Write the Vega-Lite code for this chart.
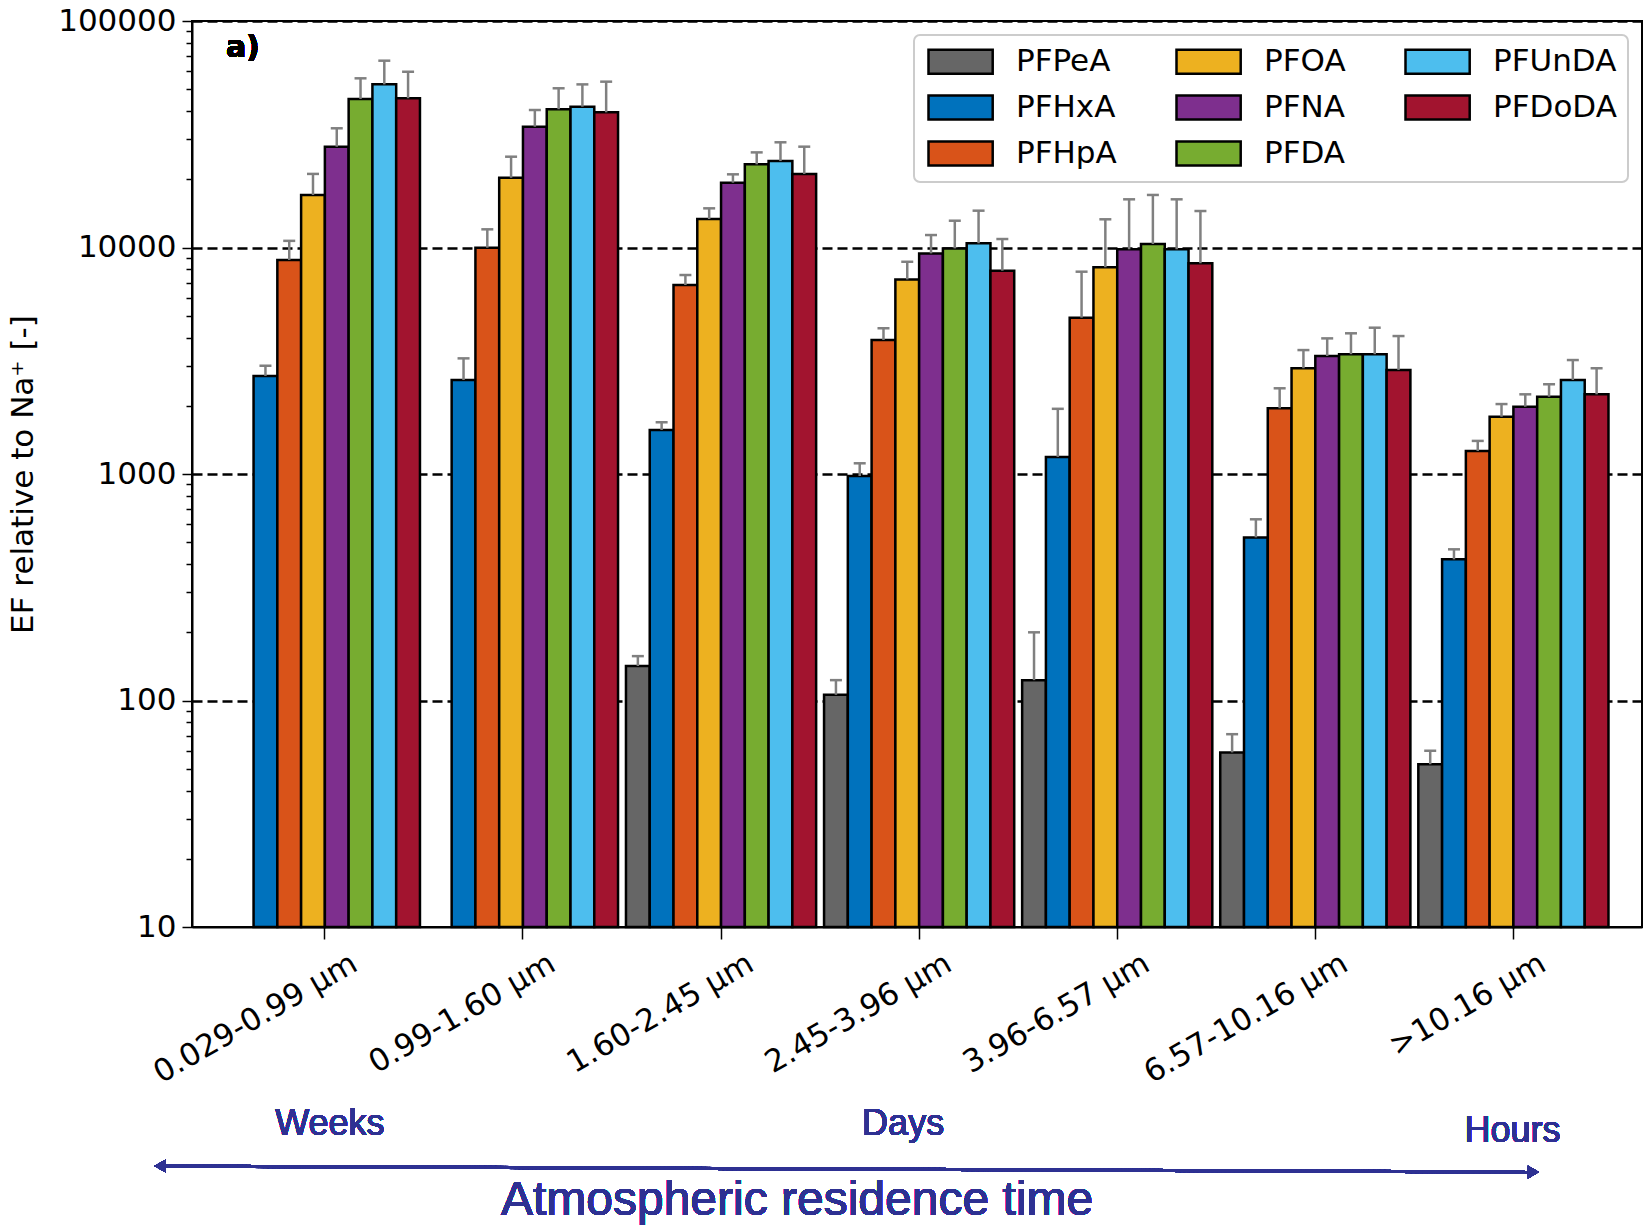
{
  "$schema": "https://vega.github.io/schema/vega-lite/v6.json",
  "autosize": {"type": "none"},
  "width": 1450,
  "height": 906,
  "padding": {"left": 192, "top": 21, "right": 2, "bottom": 300},
  "config": {
    "font": "DejaVu Sans",
    "view": {"stroke": "black", "strokeWidth": 2}
  },
  "data": {
    "values": [
      {"size": "0.029-0.99 µm", "species": "PFHxA", "value": 2710, "upper": 3006},
      {"size": "0.029-0.99 µm", "species": "PFHpA", "value": 8810, "upper": 10700},
      {"size": "0.029-0.99 µm", "species": "PFOA", "value": 17060, "upper": 21130},
      {"size": "0.029-0.99 µm", "species": "PFNA", "value": 27870, "upper": 33600},
      {"size": "0.029-0.99 µm", "species": "PFDA", "value": 45280, "upper": 55840},
      {"size": "0.029-0.99 µm", "species": "PFUnDA", "value": 52510, "upper": 66800},
      {"size": "0.029-0.99 µm", "species": "PFDoDA", "value": 45600, "upper": 59700},
      {"size": "0.99-1.60 µm", "species": "PFHxA", "value": 2600, "upper": 3240},
      {"size": "0.99-1.60 µm", "species": "PFHpA", "value": 9980, "upper": 12030},
      {"size": "0.99-1.60 µm", "species": "PFOA", "value": 20320, "upper": 25170},
      {"size": "0.99-1.60 µm", "species": "PFNA", "value": 34150, "upper": 40460},
      {"size": "0.99-1.60 µm", "species": "PFDA", "value": 40800, "upper": 50460},
      {"size": "0.99-1.60 µm", "species": "PFUnDA", "value": 41860, "upper": 52500},
      {"size": "0.99-1.60 µm", "species": "PFDoDA", "value": 39520, "upper": 53970},
      {"size": "1.60-2.45 µm", "species": "PFPeA", "value": 142, "upper": 157},
      {"size": "1.60-2.45 µm", "species": "PFHxA", "value": 1564, "upper": 1692},
      {"size": "1.60-2.45 µm", "species": "PFHpA", "value": 6830, "upper": 7560},
      {"size": "1.60-2.45 µm", "species": "PFOA", "value": 13360, "upper": 14890},
      {"size": "1.60-2.45 µm", "species": "PFNA", "value": 19330, "upper": 21040},
      {"size": "1.60-2.45 µm", "species": "PFDA", "value": 23290, "upper": 26300},
      {"size": "1.60-2.45 µm", "species": "PFUnDA", "value": 24080, "upper": 29140},
      {"size": "1.60-2.45 µm", "species": "PFDoDA", "value": 21130, "upper": 27870},
      {"size": "2.45-3.96 µm", "species": "PFPeA", "value": 106, "upper": 123},
      {"size": "2.45-3.96 µm", "species": "PFHxA", "value": 980, "upper": 1115},
      {"size": "2.45-3.96 µm", "species": "PFHpA", "value": 3905, "upper": 4400},
      {"size": "2.45-3.96 µm", "species": "PFOA", "value": 7230, "upper": 8650},
      {"size": "2.45-3.96 µm", "species": "PFNA", "value": 9420, "upper": 11350},
      {"size": "2.45-3.96 µm", "species": "PFDA", "value": 9910, "upper": 13130},
      {"size": "2.45-3.96 µm", "species": "PFUnDA", "value": 10440, "upper": 14540},
      {"size": "2.45-3.96 µm", "species": "PFDoDA", "value": 7900, "upper": 10900},
      {"size": "3.96-6.57 µm", "species": "PFPeA", "value": 123, "upper": 200},
      {"size": "3.96-6.57 µm", "species": "PFHxA", "value": 1190, "upper": 1940},
      {"size": "3.96-6.57 µm", "species": "PFHpA", "value": 4900, "upper": 7820},
      {"size": "3.96-6.57 µm", "species": "PFOA", "value": 8180, "upper": 13320},
      {"size": "3.96-6.57 µm", "species": "PFNA", "value": 9820, "upper": 16320},
      {"size": "3.96-6.57 µm", "species": "PFDA", "value": 10360, "upper": 17060},
      {"size": "3.96-6.57 µm", "species": "PFUnDA", "value": 9820, "upper": 16320},
      {"size": "3.96-6.57 µm", "species": "PFDoDA", "value": 8520, "upper": 14490},
      {"size": "6.57-10.16 µm", "species": "PFPeA", "value": 59, "upper": 71},
      {"size": "6.57-10.16 µm", "species": "PFHxA", "value": 525, "upper": 631},
      {"size": "6.57-10.16 µm", "species": "PFHpA", "value": 1950, "upper": 2390},
      {"size": "6.57-10.16 µm", "species": "PFOA", "value": 2930, "upper": 3525},
      {"size": "6.57-10.16 µm", "species": "PFNA", "value": 3320, "upper": 3970},
      {"size": "6.57-10.16 µm", "species": "PFDA", "value": 3380, "upper": 4180},
      {"size": "6.57-10.16 µm", "species": "PFUnDA", "value": 3380, "upper": 4425},
      {"size": "6.57-10.16 µm", "species": "PFDoDA", "value": 2880, "upper": 4065},
      {"size": ">10.16 µm", "species": "PFPeA", "value": 52.3, "upper": 60},
      {"size": ">10.16 µm", "species": "PFHxA", "value": 420, "upper": 465},
      {"size": ">10.16 µm", "species": "PFHpA", "value": 1264, "upper": 1400},
      {"size": ">10.16 µm", "species": "PFOA", "value": 1790, "upper": 2036},
      {"size": ">10.16 µm", "species": "PFNA", "value": 1983, "upper": 2248},
      {"size": ">10.16 µm", "species": "PFDA", "value": 2193, "upper": 2490},
      {"size": ">10.16 µm", "species": "PFUnDA", "value": 2600, "upper": 3185},
      {"size": ">10.16 µm", "species": "PFDoDA", "value": 2248, "upper": 2930}
    ]
  },
  "encoding": {
    "x": {
      "field": "size",
      "type": "nominal",
      "sort": null,
      "scale": {
        "domain": ["0.029-0.99 µm", "0.99-1.60 µm", "1.60-2.45 µm", "2.45-3.96 µm", "3.96-6.57 µm", "6.57-10.16 µm", ">10.16 µm"],
        "paddingInner": 0.04,
        "paddingOuter": 0.18,
        "align": 0.53
      },
      "axis": {
        "title": null,
        "labelAngle": -30,
        "labelAlign": "right",
        "labelBaseline": "middle",
        "labelOffset": 30,
        "labelPadding": 22,
        "labelFontSize": 31,
        "labelLimit": 0,
        "labelColor": "black",
        "labelFont": "DejaVu Sans",
        "tickSize": 12,
        "tickColor": "black",
        "tickWidth": 1.5,
        "domainColor": "black",
        "domainWidth": 2
      }
    },
    "y": {
      "type": "quantitative",
      "scale": {"type": "log", "domain": [10, 100000], "nice": false},
      "axis": {
        "title": "EF relative to Na⁺  [-]",
        "titleFontSize": 31,
        "titleFontWeight": "normal",
        "titleFont": "DejaVu Sans",
        "titleColor": "black",
        "titlePadding": 18,
        "values": [10, 20, 30, 40, 50, 60, 70, 80, 90, 100, 200, 300, 400, 500, 600, 700, 800, 900, 1000, 2000, 3000, 4000, 5000, 6000, 7000, 8000, 9000, 10000, 20000, 30000, 40000, 50000, 60000, 70000, 80000, 90000, 100000],
        "labelExpr": "indexof([10,100,1000,10000,100000], datum.value) >= 0 ? '' + datum.value : ''",
        "labelFontSize": 31,
        "labelColor": "black",
        "labelPadding": 6,
        "labelFont": "DejaVu Sans",
        "tickColor": "black",
        "tickWidth": 1.5,
        "tickSize": {"condition": {"test": "indexof([10,100,1000,10000,100000], datum.value) >= 0", "value": 10}, "value": 6},
        "domainColor": "black",
        "domainWidth": 2,
        "grid": true,
        "gridColor": "black",
        "gridWidth": 2.6,
        "gridDash": [10, 5],
        "gridOpacity": {"condition": {"test": "indexof([100,1000,10000,100000], datum.value) >= 0", "value": 1}, "value": 0}
      }
    }
  },
  "layer": [
    {
      "mark": {"type": "bar", "stroke": "black", "strokeWidth": 2.5},
      "encoding": {
        "y": {"field": "value", "type": "quantitative"},
        "y2": {"datum": 10},
        "xOffset": {
          "field": "species",
          "type": "nominal",
          "scale": {"domain": ["PFPeA", "PFHxA", "PFHpA", "PFOA", "PFNA", "PFDA", "PFUnDA", "PFDoDA"], "paddingInner": 0, "paddingOuter": 0}
        },
        "color": {
          "field": "species",
          "type": "nominal",
          "scale": {
            "domain": ["PFPeA", "PFHxA", "PFHpA", "PFOA", "PFNA", "PFDA", "PFUnDA", "PFDoDA"],
            "range": ["#666666", "#0072BD", "#D95319", "#EDB120", "#7E2F8E", "#77AC30", "#4DBEEE", "#A2142F"]
          },
          "legend": {
            "title": null,
            "orient": "top-right",
            "offset": 14,
            "columns": 3,
            "symbolType": "M-1,-1H4.35V1H-1Z",
            "symbolSize": 576,
            "symbolStrokeColor": "black",
            "symbolStrokeWidth": 2.5,
            "symbolOpacity": 1,
            "labelFontSize": 31,
            "labelFont": "DejaVu Sans",
            "labelColor": "black",
            "labelOffset": 60,
            "columnPadding": 54,
            "rowPadding": 11,
            "padding": 11,
            "fillColor": "white",
            "strokeColor": "#cccccc",
            "cornerRadius": 6,
            "encode": {"legend": {"update": {"strokeWidth": {"value": 2}}}}
          }
        }
      }
    },
    {
      "mark": {"type": "rule", "color": "#808080", "strokeWidth": 2.5},
      "encoding": {
        "y": {"field": "value", "type": "quantitative"},
        "y2": {"field": "upper"},
        "xOffset": {"field": "species", "type": "nominal"}
      }
    },
    {
      "mark": {"type": "point", "shape": "M-1,0H1", "filled": false, "color": "#808080", "strokeWidth": 2.5, "size": 144, "opacity": 1},
      "encoding": {
        "y": {"field": "upper", "type": "quantitative"},
        "xOffset": {"field": "species", "type": "nominal"}
      }
    },
    {
      "mark": {"type": "text", "text": "a)", "fontSize": 30, "fontWeight": "bold", "align": "left", "baseline": "middle", "dx": -99, "color": "black"},
      "encoding": {
        "x": {"datum": "0.029-0.99 µm", "type": "nominal"},
        "y": {"datum": 76000, "type": "quantitative"}
      }
    },
    {
      "mark": {"type": "text", "text": "Weeks", "font": "Liberation Sans", "fontSize": 36, "color": "#2e3192", "align": "center", "baseline": "middle", "dx": 5},
      "encoding": {
        "x": {"datum": "0.029-0.99 µm", "type": "nominal"},
        "y": {"datum": 1.35, "type": "quantitative"}
      }
    },
    {
      "mark": {"type": "text", "text": "Days", "font": "Liberation Sans", "fontSize": 36, "color": "#2e3192", "align": "center", "baseline": "middle", "dx": -16},
      "encoding": {
        "x": {"datum": "2.45-3.96 µm", "type": "nominal"},
        "y": {"datum": 1.35, "type": "quantitative"}
      }
    },
    {
      "mark": {"type": "text", "text": "Hours", "font": "Liberation Sans", "fontSize": 36, "color": "#2e3192", "align": "center", "baseline": "middle", "dx": -1},
      "encoding": {
        "x": {"datum": ">10.16 µm", "type": "nominal"},
        "y": {"datum": 1.26, "type": "quantitative"}
      }
    },
    {
      "mark": {"type": "text", "text": "Atmospheric residence time", "font": "Liberation Sans", "fontSize": 48, "color": "#2e3192", "align": "center", "baseline": "middle", "dx": 76},
      "encoding": {
        "x": {"datum": "1.60-2.45 µm", "type": "nominal"},
        "y": {"datum": 0.62, "type": "quantitative"}
      }
    },
    {
      "mark": {"type": "rule", "color": "#2e3192", "strokeWidth": 3, "xOffset": -165, "x2Offset": 20},
      "encoding": {
        "x": {"datum": "0.029-0.99 µm", "type": "nominal"},
        "x2": {"datum": ">10.16 µm"},
        "y": {"datum": 0.881, "type": "quantitative"},
        "y2": {"datum": 0.828}
      }
    },
    {
      "mark": {"type": "point", "shape": "triangle-left", "filled": true, "color": "#2e3192", "size": 160, "opacity": 1, "xOffset": -165},
      "encoding": {
        "x": {"datum": "0.029-0.99 µm", "type": "nominal"},
        "y": {"datum": 0.881, "type": "quantitative"}
      }
    },
    {
      "mark": {"type": "point", "shape": "triangle-right", "filled": true, "color": "#2e3192", "size": 160, "opacity": 1, "xOffset": 20},
      "encoding": {
        "x": {"datum": ">10.16 µm", "type": "nominal"},
        "y": {"datum": 0.828, "type": "quantitative"}
      }
    }
  ]
}
